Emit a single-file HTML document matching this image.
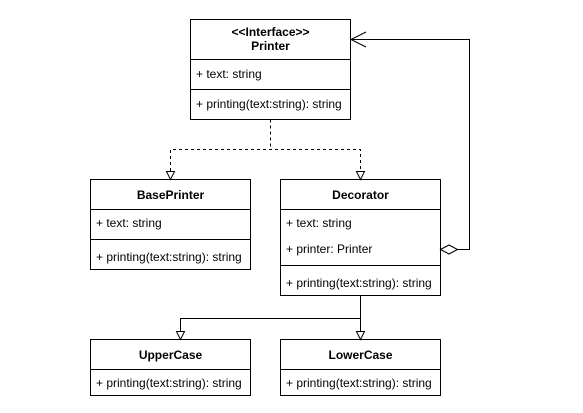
<!DOCTYPE html>
<html><head><meta charset="utf-8"><style>
html,body{margin:0;padding:0;background:#fff;}
svg{display:block;}
text{font-family:"Liberation Sans",Arial,sans-serif;font-size:12px;fill:#000;}
</style></head><body>
<svg width="583" height="413" viewBox="0 0 583 413" xmlns="http://www.w3.org/2000/svg">
<g fill="#fff" stroke="#000" stroke-width="1">
<rect x="190.5" y="19.5" width="160" height="100"/>
<line x1="190.5" y1="59.5" x2="350.5" y2="59.5"/>
<line x1="190.5" y1="89.5" x2="350.5" y2="89.5"/>
<rect x="90.5" y="179.5" width="160" height="90"/>
<line x1="90.5" y1="209.5" x2="250.5" y2="209.5"/>
<line x1="90.5" y1="239.5" x2="250.5" y2="239.5"/>
<rect x="280.5" y="179.5" width="160" height="116"/>
<line x1="280.5" y1="209.5" x2="440.5" y2="209.5"/>
<line x1="280.5" y1="265.5" x2="440.5" y2="265.5"/>
<rect x="90.5" y="339.5" width="160" height="56"/>
<line x1="90.5" y1="369.5" x2="250.5" y2="369.5"/>
<rect x="280.5" y="339.5" width="160" height="56"/>
<line x1="280.5" y1="369.5" x2="440.5" y2="369.5"/>
</g>
<g fill="none" stroke="#000" stroke-width="1">
<path d="M270.5 119.5 V149.5 M170.5 171 V149.5 H360.5 V171" stroke-dasharray="3,3"/>
<path d="M166.5 171.5 L170.5 179.5 L174.5 171.5 Z" fill="#fff"/>
<path d="M356.5 171.5 L360.5 179.5 L364.5 171.5 Z" fill="#fff"/>
<path d="M360.5 295.5 V331 M180.5 331 V318.5 H360.5"/>
<path d="M176.5 331.5 L180.5 339.5 L184.5 331.5 Z" fill="#fff"/>
<path d="M356.5 331.5 L360.5 339.5 L364.5 331.5 Z" fill="#fff"/>
<path d="M457.5 249.5 H469.5 V39.5 H351"/>
<path d="M366 32 L351 39.5 L366 47"/>
<path d="M440.5 249.5 L449 245 L457.5 249.5 L449 254 Z" fill="#fff"/>
</g>
<text x="270.5" y="36" text-anchor="middle" font-weight="bold">&lt;&lt;Interface&gt;&gt;</text>
<text x="270.5" y="50" text-anchor="middle" font-weight="bold">Printer</text>
<text x="196" y="78">+ text: string</text>
<text x="196" y="108">+ printing(text:string): string</text>
<text x="170.5" y="199" text-anchor="middle" font-weight="bold">BasePrinter</text>
<text x="96" y="227">+ text: string</text>
<text x="96" y="261">+ printing(text:string): string</text>
<text x="360.5" y="199" text-anchor="middle" font-weight="bold">Decorator</text>
<text x="286" y="227">+ text: string</text>
<text x="286" y="253">+ printer: Printer</text>
<text x="286" y="287">+ printing(text:string): string</text>
<text x="170.5" y="359" text-anchor="middle" font-weight="bold">UpperCase</text>
<text x="96" y="387">+ printing(text:string): string</text>
<text x="360.5" y="359" text-anchor="middle" font-weight="bold">LowerCase</text>
<text x="286" y="387">+ printing(text:string): string</text>
</svg>
</body></html>
